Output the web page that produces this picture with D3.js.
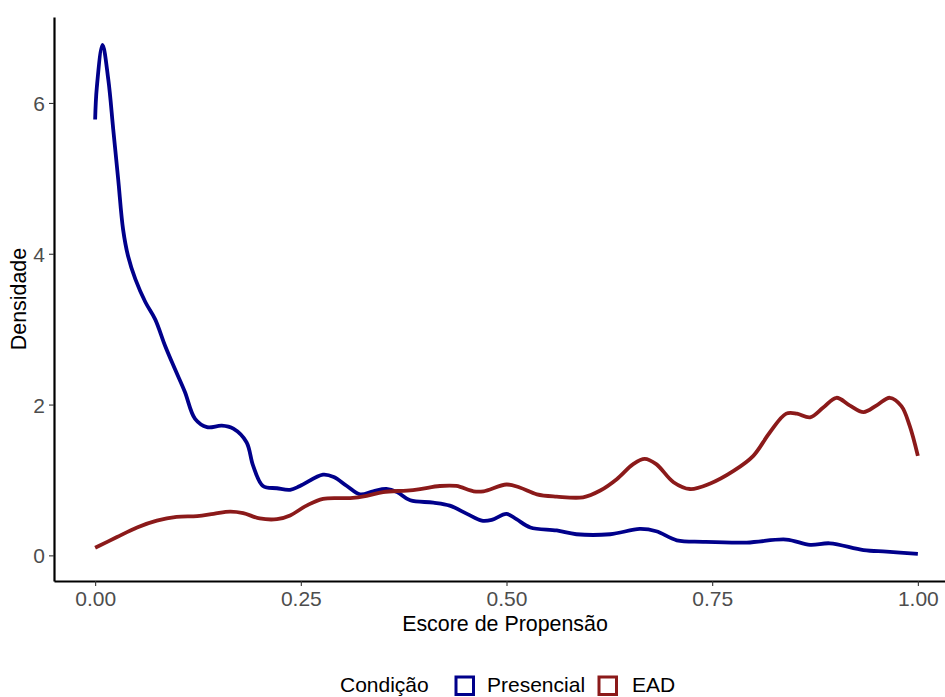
<!DOCTYPE html>
<html><head><meta charset="utf-8">
<script src="https://cdn.jsdelivr.net/npm/d3@7"></script>
<style>body{margin:0;background:#fff}svg{display:block;font-family:"Liberation Sans",Arial,sans-serif}</style>
</head><body><svg id="c" width="945" height="697"></svg>
<script>
const seriesNames = ["Presencial", "EAD"];
const seriesColors = ["#00008B", "#8B1A1A"];
const xTicks = [0, 0.25, 0.5, 0.75, 1.0];
const xTickLabels = ["0.00", "0.25", "0.50", "0.75", "1.00"];
const yTicks = [0, 2, 4, 6];
const presencialX = [0,0.002,0.009,0.016,0.022,0.028,0.034,0.040,0.049,0.061,0.073,0.085,0.097,0.109,0.1215,0.136,0.154,0.168,0.184,0.192,0.204,0.221,0.237,0.249,0.277,0.290,0.306,0.322,0.338,0.354,0.367,0.383,0.411,0.431,0.452,0.470,0.482,0.500,0.512,0.529,0.561,0.585,0.626,0.662,0.682,0.707,0.739,0.792,0.840,0.869,0.893,0.934,0.962,1.0];
const presencialY = [5.78,6.2,6.77,6.31,5.65,4.99,4.32,3.97,3.66,3.36,3.13,2.78,2.47,2.17,1.81,1.70,1.72,1.68,1.50,1.19,0.92,0.89,0.87,0.92,1.07,1.04,0.92,0.81,0.85,0.88,0.84,0.73,0.70,0.66,0.55,0.46,0.47,0.55,0.48,0.37,0.33,0.28,0.28,0.35,0.32,0.20,0.18,0.17,0.21,0.14,0.16,0.07,0.05,0.02];
const eadX = [0,0.026,0.051,0.075,0.099,0.124,0.144,0.164,0.180,0.200,0.221,0.237,0.257,0.277,0.310,0.330,0.350,0.379,0.395,0.419,0.439,0.460,0.472,0.500,0.516,0.537,0.561,0.593,0.614,0.634,0.654,0.668,0.682,0.703,0.723,0.747,0.776,0.800,0.820,0.840,0.853,0.869,0.885,0.901,0.917,0.934,0.950,0.966,0.980,0.990,1.0];
const eadY = [0.10,0.24,0.37,0.46,0.51,0.52,0.55,0.58,0.56,0.49,0.48,0.53,0.66,0.75,0.76,0.79,0.84,0.86,0.88,0.92,0.92,0.85,0.85,0.94,0.90,0.81,0.78,0.77,0.86,1.01,1.21,1.28,1.21,0.97,0.88,0.95,1.12,1.32,1.63,1.88,1.88,1.83,1.96,2.09,1.99,1.90,1.99,2.09,1.98,1.72,1.32];
const xTitle = "Escore de Propensão";
const yTitle = "Densidade";
const legendTitle = "Condição";

const svg = d3.select("#c");
const x = d3.scaleLinear().domain([-0.05, 1.05]).range([54, 959]);
const y = d3.scaleLinear().domain([-0.34, 7.14]).range([581, 17]);

const series = [
  {name: seriesNames[0], color: seriesColors[0], pts: presencialX.map((v,i)=>[v, presencialY[i]])},
  {name: seriesNames[1], color: seriesColors[1], pts: eadX.map((v,i)=>[v, eadY[i]])}
];
const line = d3.line().x(d=>x(d[0])).y(d=>y(d[1])).curve(d3.curveCatmullRom.alpha(0.5));
svg.selectAll("path.s").data(series).join("path").attr("class","s")
  .attr("d", d=>line(d.pts)).attr("fill","none").attr("stroke", d=>d.color)
  .attr("stroke-width", 3.8).attr("stroke-linejoin","round").attr("stroke-linecap","butt");

const xAxis = svg.append("g").attr("transform","translate(0,581)")
  .call(d3.axisBottom(x).tickValues(xTicks).tickFormat((d,i)=>xTickLabels[i]).tickSize(5).tickSizeOuter(0).tickPadding(4));
const yAxis = svg.append("g").attr("transform","translate(54,0)")
  .call(d3.axisLeft(y).tickValues(yTicks).tickSize(5).tickSizeOuter(0).tickPadding(4));
[xAxis, yAxis].forEach(g=>{
  g.select(".domain").attr("stroke","#000").attr("stroke-width",2.2);
  g.selectAll(".tick line").attr("stroke","#333").attr("stroke-width",1.1);
  g.selectAll(".tick text").attr("fill","#4D4D4D").attr("font-size",21).attr("font-family","Liberation Sans, Arial, sans-serif");
});
yAxis.selectAll(".tick text").attr("dy","0.36em");
xAxis.selectAll(".tick text").attr("dy","0.74em");

svg.append("text").attr("x",505).attr("y",631).attr("text-anchor","middle")
  .attr("font-size",21.4).attr("fill","#000").text(xTitle);
svg.append("text").attr("transform","translate(26,299) rotate(-90)").attr("text-anchor","middle")
  .attr("font-size",21.4).attr("fill","#000").text(yTitle);

const lg = svg.append("g");
lg.append("text").attr("x",340).attr("y",692).attr("font-size",21).attr("fill","#000").text(legendTitle);
const items = [{s:series[0], bx:456, tx:487},{s:series[1], bx:599, tx:632}];
items.forEach(it=>{
  lg.append("rect").attr("x",it.bx).attr("y",677).attr("width",17.5).attr("height",17.5)
    .attr("fill","none").attr("stroke",it.s.color).attr("stroke-width",3);
  lg.append("text").attr("x",it.tx).attr("y",692).attr("font-size",21).attr("fill","#000").text(it.s.name);
});
</script></body></html>
